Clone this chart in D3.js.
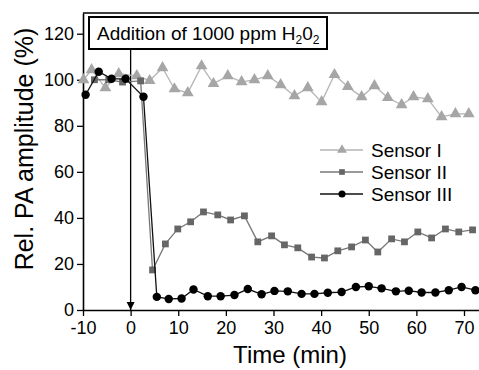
<!DOCTYPE html>
<meta charset="utf-8">
<script src="https://d3js.org/d3.v7.min.js"></script>
<style>
  body { margin: 0; background: #fff; }
  text { font-family: "Liberation Sans", Arial, sans-serif; }
</style>
<div id="my_dataviz"></div>
<script>

// data (time in min, relative amplitude in %)
var sensor1Time = [-9.9, -8.2, -5.3, -2.5, 1.3, 4.0, 6.7, 9.2, 12.0, 14.9, 17.4, 20.4, 23.3, 26.0, 28.8, 31.5, 34.4, 37.2, 40.1, 42.8, 45.6, 48.5, 51.2, 54.0, 56.9, 59.4, 62.4, 65.3, 68.2, 71.0];
var sensor1Value = [100, 104.3, 96.5, 102.6, 101.7, 99.6, 105.2, 96, 94.3, 106, 98.3, 101.7, 99.1, 100, 101.7, 97.8, 93, 96.5, 90.4, 102.2, 97, 92.6, 97.4, 92.2, 89.1, 92.6, 91.7, 83.9, 85.2, 85.2];

var sensor2Time = [-7.6, -4.6, -1.7, 2.1, 4.6, 7.3, 9.9, 12.6, 15.3, 18.3, 21.0, 23.9, 26.7, 29.6, 32.3, 35.1, 38.0, 40.7, 43.5, 46.4, 49.3, 51.9, 54.8, 57.5, 60.3, 63.2, 66.1, 68.9, 71.8];
var sensor2Value = [100, 100, 99, 99.5, 17.4, 28.7, 35.2, 38.3, 42.6, 41.3, 39.1, 40.9, 29.6, 32.2, 28.3, 27, 23, 22.6, 25.7, 27.4, 30.4, 25.2, 30.9, 29.6, 33.9, 31.3, 35.2, 33.9, 34.8];

var sensor3Time = [-9.45, -6.7, -4.0, -1.05, 2.7, 5.5, 8.0, 10.7, 13.2, 16.2, 18.9, 21.8, 24.6, 27.5, 30.2, 33.0, 35.9, 38.6, 41.4, 44.3, 47.3, 50.0, 52.7, 55.7, 58.4, 61.1, 64.0, 66.8, 69.5, 72.4];
var sensor3Value = [93.5, 103.5, 100.4, 100.4, 92.6, 5.7, 4.8, 5.0, 8.9, 6, 6, 6.5, 9.1, 6.8, 8.3, 8.1, 7, 7, 7.5, 7.8, 10, 10.3, 9.4, 8.1, 8.4, 7.6, 7.6, 8.6, 10, 8.6];

var xTicks = [-10, 0, 10, 20, 30, 40, 50, 60, 70];
var yTicks = [0, 20, 40, 60, 80, 100, 120];
var seriesNames = ["Sensor I", "Sensor II", "Sensor III"];

var width = 479, height = 370;
var margin = {top: 13, left: 83, bottom: 60};

var svg = d3.select("#my_dataviz")
  .append("svg")
    .attr("width", width)
    .attr("height", height);

var x = d3.scaleLinear()
  .domain([-10, 73.15])
  .range([margin.left, width]);

var y = d3.scaleLinear()
  .domain([0, 129])
  .range([height - margin.bottom, margin.top]);

// series styles
var series = [
  {name: seriesNames[0], t: sensor1Time, v: sensor1Value, line: "#b4b4b4", fill: "#a6a6a6", shape: d3.symbolTriangle, size: 60},
  {name: seriesNames[1], t: sensor2Time, v: sensor2Value, line: "#777", fill: "#666", shape: d3.symbolSquare, size: 46},
  {name: seriesNames[2], t: sensor3Time, v: sensor3Value, line: "#111", fill: "#000", shape: d3.symbolCircle, size: 56}
];

// frame (top line) 
svg.append("line")
  .attr("x1", margin.left).attr("x2", width)
  .attr("y1", margin.top).attr("y2", margin.top)
  .attr("stroke", "#000").attr("stroke-width", 1.5);

// plain hyphen for negatives, like the original
var plain = function (d) { return String(d); };

// X axis
var xAxis = svg.append("g")
  .attr("transform", "translate(0," + y(0) + ")")
  .call(d3.axisBottom(x).tickValues(xTicks).tickFormat(plain).tickSize(6).tickPadding(5).tickSizeOuter(0));

// Y axis
var yAxis = svg.append("g")
  .attr("transform", "translate(" + margin.left + ",0)")
  .call(d3.axisLeft(y).tickValues(yTicks).tickFormat(plain).tickSize(6).tickPadding(3).tickSizeOuter(0));

[xAxis, yAxis].forEach(function (g) {
  g.select(".domain").attr("stroke-width", 1.6);
  g.selectAll(".tick line").attr("stroke-width", 1.3);
  g.selectAll(".tick text")
    .style("font-size", "18px")
    .style("font-family", "Liberation Sans, Arial, sans-serif")
    .attr("fill", "#000");
});

// axis labels
svg.append("text")
  .attr("text-anchor", "middle")
  .attr("x", 290)
  .attr("y", 363)
  .style("font-size", "24px")
  .text("Time (min)");

svg.append("text")
  .attr("text-anchor", "middle")
  .attr("transform", "translate(33,149) rotate(-90)")
  .style("font-size", "25px")
  .text("Rel. PA amplitude (%)");

// arrow marking the addition at t = 0
svg.append("defs").append("marker")
    .attr("id", "arrow")
    .attr("viewBox", "0 0 10 10")
    .attr("refX", 10).attr("refY", 5)
    .attr("markerWidth", 8).attr("markerHeight", 10)
    .attr("markerUnits", "userSpaceOnUse")
    .attr("orient", "auto")
  .append("path")
    .attr("d", "M0,0L10,5L0,10Z")
    .attr("fill", "#000");

svg.append("line")
  .attr("x1", x(0)).attr("x2", x(0))
  .attr("y1", 49).attr("y2", y(0))
  .attr("stroke", "#000").attr("stroke-width", 1.3)
  .attr("marker-end", "url(#arrow)");

// lines + markers
series.forEach(function (s) {
  var pts = s.t.map(function (t, i) { return [t, s.v[i]]; });
  svg.append("path")
    .datum(pts)
    .attr("fill", "none")
    .attr("stroke", s.line)
    .attr("stroke-width", 1.3)
    .attr("d", d3.line().x(function (d) { return x(d[0]); }).y(function (d) { return y(d[1]); }));
  svg.selectAll(null)
    .data(pts)
    .enter()
    .append("path")
      .attr("transform", function (d) { return "translate(" + x(d[0]) + "," + y(d[1]) + ")"; })
      .attr("d", d3.symbol().type(s.shape).size(s.size))
      .attr("fill", s.fill);
});

// annotation box
svg.append("rect")
  .attr("x", 89).attr("y", 17)
  .attr("width", 238).attr("height", 32)
  .attr("fill", "#fff")
  .attr("stroke", "#000").attr("stroke-width", 2);

var note = svg.append("text")
  .attr("x", 97).attr("y", 40)
  .style("font-size", "19px")
  .text("Addition of 1000 ppm H");
note.append("tspan").attr("dy", 4).style("font-size", "12px").text("2");
note.append("tspan").attr("dy", -4).text("0");
note.append("tspan").attr("dy", 4).style("font-size", "12px").text("2");

// legend
var legend = svg.selectAll(".legend")
  .data(series)
  .enter()
  .append("g")
    .attr("transform", function (d, i) { return "translate(320," + (150 + i * 22) + ")"; });

legend.append("line")
  .attr("x1", 0).attr("x2", 43)
  .attr("stroke", function (d) { return d.line; })
  .attr("stroke-width", 1.3);

legend.append("path")
  .attr("transform", "translate(22,0)")
  .attr("d", function (d) { return d3.symbol().type(d.shape).size(d.size * 0.7)(); })
  .attr("fill", function (d) { return d.fill; });

legend.append("text")
  .attr("x", 51)
  .attr("y", 7)
  .style("font-size", "19px")
  .text(function (d) { return d.name; });

</script>
